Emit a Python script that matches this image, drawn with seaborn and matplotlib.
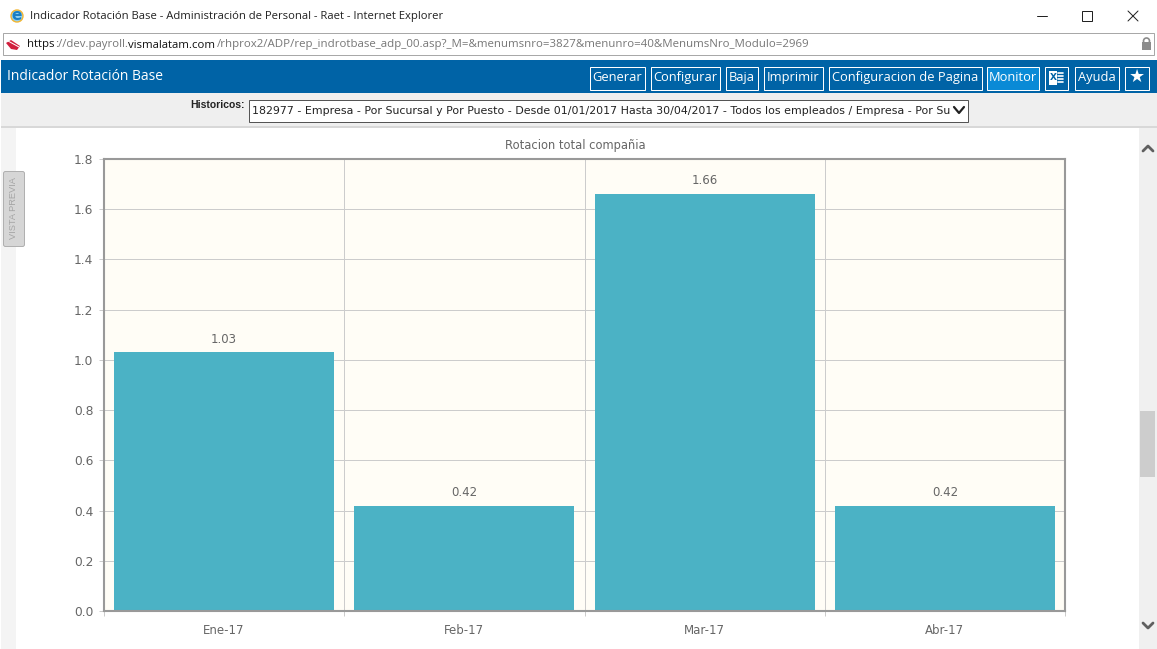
import matplotlib
matplotlib.use("Agg")
import matplotlib.pyplot as plt
from matplotlib.patches import Rectangle, Polygon, FancyBboxPatch
import pandas as pd
import seaborn as sns

# chart values
months = ["Ene-17", "Feb-17", "Mar-17", "Abr-17"]
rotation = [1.03, 0.42, 1.66, 0.42]
y_ticks = [0.0, 0.2, 0.4, 0.6, 0.8, 1.0, 1.2, 1.4, 1.6, 1.8]

chart_title = "Rotacion total compañia"
window_title = "Indicador Rotación Base - Administración de Personal - Raet - Internet Explorer"
page_title = "Indicador Rotación Base"
history_text = ("182977 - Empresa - Por Sucursal y Por Puesto - Desde 01/01/2017 Hasta 30/04/2017 "
                "- Todos los empleados / Empresa - Por Su")

# toolbar buttons: label, left, right
buttons = [("Generar", 589, 645), ("Configurar", 650, 720), ("Baja", 725, 758),
           ("Imprimir", 763, 823), ("Configuracion de Pagina", 828, 982),
           ("Monitor", 986, 1039), ("", 1044, 1068), ("Ayuda", 1074, 1119), ("", 1124, 1149)]

W, H = 1157, 649
BLUE = "#0063a6"
UI_FONT = "Open Sans"
PX = 0.72  # one pixel in points

sns.set_theme(style="white")
fig = plt.figure(figsize=(W / 100, H / 100), dpi=100, facecolor="white")

# browser window around the chart, drawn in pixel coordinates
bg = fig.add_axes([0, 0, 1, 1], zorder=0)
bg.set_xlim(0, W)
bg.set_ylim(H, 0)
bg.axis("off")


def box(x0, y0, x1, y1, fc="none", ec="none", lw=PX):
    bg.add_patch(Rectangle((x0, y0), x1 - x0, y1 - y0, fc=fc, ec=ec, lw=lw))


def label(x, y, s, size=9, color="#333333", ha="left", family=UI_FONT, **kw):
    bg.text(x, y, s, fontsize=size, color=color, ha=ha, va="center", family=family, **kw)


# title bar
bg.add_patch(plt.Circle((17, 16), 6, fc="#8fd0f2", ec="#f2b632", lw=1))
label(17, 15.5, "e", size=11, color="#1b7fc4", ha="center", family="DejaVu Sans", weight="bold")
label(30, 16, window_title, size=8.15, color="#222222")
bg.plot([1037, 1047], [16, 16], color="#222222", lw=PX)
box(1081.5, 10.5, 1091.5, 20.5, ec="#222222")
bg.plot([1128, 1138], [11, 21], color="#222222", lw=PX)
bg.plot([1128, 1138], [21, 11], color="#222222", lw=PX)

# address bar
box(2.5, 33, 1153.5, 55, fc="white", ec="#a8a8a8")
bg.add_patch(Polygon([(6, 43), (11, 40), (20, 46), (17, 50), (11, 49)], fc="#d11f3c", ec="none"))
bg.plot([8, 19], [41, 47], color="white", lw=PX)
label(27, 45, "https", size=8.2, color="#111111")
label(55, 45, "://dev.payroll.", size=8.2, color="#777777")
label(128, 45, "vismalatam.com", size=8.2, color="#111111")
label(217, 45, "/rhprox2/ADP/rep_indrotbase_adp_00.asp?_M=&menumsnro=3827&menunro=40&MenumsNro_Modulo=2969",
      size=8.25, color="#777777")
box(1142, 42, 1151, 50, fc="#8c8c8c")
bg.add_patch(plt.Circle((1146.5, 41), 3, fc="none", ec="#8c8c8c", lw=1.2))

# blue header with buttons
box(1, 60, W, 93, fc=BLUE)
label(7, 76, page_title, size=10, color="white")
for text, x0, x1 in buttons:
    fill = "#0a8ad6" if text == "Monitor" else BLUE
    box(x0 + 0.5, 66.5, x1 - 0.5, 89.5, fc=fill, ec="white")
    if text:
        label((x0 + x1) / 2, 77.5, text, size=9.3, color="white", ha="center")
box(1049, 71, 1057, 85, fc="white")
label(1053, 78, "X", size=6.5, color=BLUE, ha="center", family="DejaVu Sans", weight="bold")
for yy in [73, 76, 79, 82]:
    bg.plot([1058, 1063], [yy, yy], color="white", lw=1.2)
bg.text(1136.5, 77, "★", fontsize=13, color="white", ha="center", va="center", family="DejaVu Sans")

# filter row
box(1, 93, W, 126, fc="#efefef")
box(1, 126, W, 128, fc="#d8d8d8")
label(245, 105, "Historicos:", size=7.5, color="#222222", ha="right", family="Liberation Sans", weight="bold")
box(248.5, 99.5, 967.5, 121.5, fc="white", ec="#555555")
label(252, 110.5, history_text, size=7.88, color="#222222", family="DejaVu Sans")
bg.plot([954, 959, 964], [107, 113, 107], color="#222222", lw=1.6)

# side strips and preview tab
box(1, 128, 16, H, fc="#f4f4f4")
box(1139, 128, W, H, fc="#f0f0f0")
box(1140, 411, 1155, 477, fc="#cdcdcd")
bg.plot([1143, 1148, 1153], [151, 146, 151], color="#606060", lw=2)
bg.plot([1143, 1148, 1153], [623, 628, 623], color="#606060", lw=2)
bg.add_patch(FancyBboxPatch((3.5, 171.5), 21, 75, boxstyle="round,pad=0,rounding_size=2",
                            fc="#d6d6d6", ec="#b0b0b0", lw=PX))
label(13.5, 208.5, "VISTA PREVIA", size=6.7, color="#a5a5a5", ha="center", family="Liberation Sans", rotation=90)

# chart
ax_left, ax_right, ax_top, ax_bottom = 104, 1065, 159, 611
ax = fig.add_axes([ax_left / W, 1 - ax_bottom / H, (ax_right - ax_left) / W, (ax_bottom - ax_top) / H], zorder=2)

df = pd.DataFrame({"month": months, "rotation": rotation})
sns.barplot(data=df, x="month", y="rotation", color="#4bb2c5", saturation=1, width=0.916, ax=ax, zorder=2,
            linewidth=0, edgecolor="none")

ax.set_facecolor("#fffdf6")
ax.set_xlim(-0.5, len(months) - 0.5)
ax.set_ylim(y_ticks[0], y_ticks[-1])
ax.set_yticks(y_ticks)
ax.set_yticklabels([f"{v:.1f}" for v in y_ticks], fontsize=8.8, color="#666666")
ax.set_xlabel("")
ax.set_ylabel("")
ax.tick_params(axis="x", length=0, labelsize=8.5, labelcolor="#666666", pad=9.5)
ax.tick_params(axis="y", left=True, length=3.6, width=PX, color="#cccccc", pad=4)

# vertical grid and ticks sit between the categories
boundaries = [i - 0.5 for i in range(len(months) + 1)]
ax.set_xticks(boundaries, minor=True)
ax.tick_params(axis="x", which="minor", bottom=True, length=3.6, width=PX, color="#cccccc")
ax.grid(True, axis="y", which="major", color="#cccccc", lw=PX)
ax.grid(True, axis="x", which="minor", color="#cccccc", lw=PX)
ax.set_axisbelow(True)

for spine in ax.spines.values():
    spine.set_color("#999999")
    spine.set_linewidth(1.5)

for i, v in enumerate(rotation):
    ax.annotate(f"{v:.2f}", (i, v), xytext=(0, 4.8), textcoords="offset points", ha="center", va="bottom",
                fontsize=8.5, color="#666666")

fig.text(575 / W, 1 - 145 / H, chart_title, fontsize=8.3, color="#666666", ha="center", va="center")

fig.savefig("out.png", dpi=100)
